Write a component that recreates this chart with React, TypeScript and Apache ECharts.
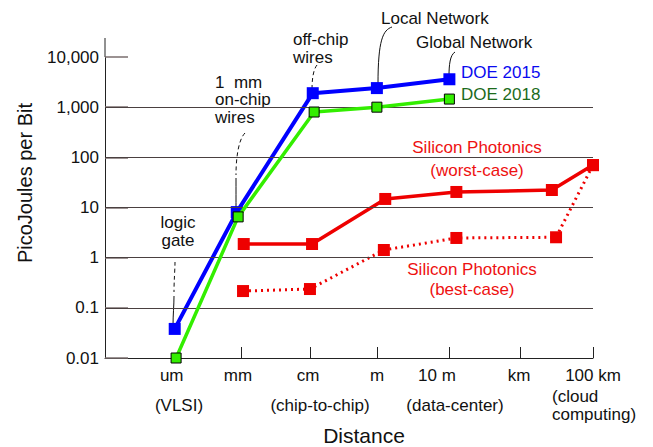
import React, { useEffect, useRef } from "react";
import * as echarts from "echarts";

// x positions are in "distance slot" units (0 = left edge of plot, 7 = 100 km)
const xTickLabels = ["um", "mm", "cm", "m", "10 m", "km", "100 km"];
const xLabelPos = [0.957, 1.908, 2.912, 3.902, 4.762, 5.939, 7];
const xTickPos = [1.951, 2.941, 3.902, 4.934, 5.953, 7];
const yTickLabels = ["0.01", "0.1", "1", "10", "100", "1,000", "10,000"];
const gridValues = [0.1, 1, 10, 100, 1000];

const doe2015: [number, number][] = [
  [1.0, 0.038],
  [1.89, 8.1],
  [2.98, 1900],
  [3.9, 2400],
  [4.94, 3600],
];
const doe2018: [number, number][] = [
  [1.02, 0.01],
  [1.91, 6.5],
  [3.0, 800],
  [3.9, 1000],
  [4.94, 1450],
];
const siWorst: [number, number][] = [
  [1.99, 1.87],
  [2.97, 1.87],
  [4.02, 14.8],
  [5.04, 20.4],
  [6.41, 22.3],
  [7.0, 70],
];
const siBest: [number, number][] = [
  [1.98, 0.216],
  [2.94, 0.237],
  [4.0, 1.42],
  [5.04, 2.47],
  [6.47, 2.55],
  [7.0, 70],
];

const FONT = '"Liberation Sans", Arial, Helvetica, sans-serif';

function txt(text: string, x: number, y: number, fill = "#111", align = "center", size = 17, lh = 17.5) {
  return {
    type: "text",
    x,
    y,
    silent: true,
    style: {
      text,
      fill,
      font: `${size}px ${FONT}`,
      lineHeight: lh,
      align,
      verticalAlign: "middle",
    },
  };
}

function curve(x1: number, y1: number, cx1: number, cy1: number, cx2: number, cy2: number, x2: number, y2: number, dashed: boolean) {
  return {
    type: "bezierCurve",
    silent: true,
    shape: { x1, y1, cpx1: cx1, cpy1: cy1, cpx2: cx2, cpy2: cy2, x2, y2 },
    style: { stroke: "#111", lineWidth: 1, fill: "none", lineDash: dashed ? [4, 3] : null },
  };
}

export default function App() {
  const ref = useRef<HTMLDivElement>(null);
  useEffect(() => {
    if (!ref.current) return;
    const chart = echarts.init(ref.current, null, { renderer: "svg" });
    const option: any = {
      animation: false,
      backgroundColor: "#fff",
      textStyle: { fontFamily: FONT },
      grid: { left: 105, right: 60, top: 57, bottom: 89 },
      xAxis: {
        type: "value",
        min: 0,
        max: 7,
        axisLine: { show: true, lineStyle: { color: "#222", width: 1 } },
        axisTick: {
          show: true,
          inside: true,
          length: 11,
          customValues: xTickPos,
          lineStyle: { color: "#222", width: 1 },
        },
        axisLabel: {
          show: true,
          customValues: xLabelPos,
          margin: 9,
          color: "#111",
          fontSize: 17,
          fontFamily: FONT,
          formatter: (v: number) => {
            const i = xLabelPos.findIndex((p) => Math.abs(p - v) < 1e-6);
            return i >= 0 ? xTickLabels[i] : "";
          },
        },
        splitLine: { show: false },
      },
      yAxis: {
        type: "log",
        logBase: 10,
        min: 0.01,
        max: 10000,
        splitNumber: 6,
        axisLine: { show: true, lineStyle: { color: "#222", width: 1 } },
        axisTick: { show: true, inside: true, length: 23, lineStyle: { color: "#7a6e6e", width: 1.5 } },
        axisLabel: {
          margin: 6,
          color: "#111",
          fontSize: 17,
          fontFamily: FONT,
          formatter: (v: number) => {
            const e = Math.round(Math.log10(v)) + 2;
            return yTickLabels[e] ?? "";
          },
        },
        splitLine: { show: false },
      },
      series: [
        {
          type: "line",
          data: [],
          z: 1,
          silent: true,
          markLine: {
            silent: true,
            symbol: "none",
            label: { show: false },
            lineStyle: { color: "#4a4040", width: 1, type: "solid" },
            data: gridValues.map((v) => ({ yAxis: v })),
          },
        },
        {
          name: "DOE 2015",
          type: "line",
          data: doe2015,
          z: 4,
          symbol: "rect",
          symbolSize: 12,
          lineStyle: { color: "#0000ff", width: 4 },
          itemStyle: { color: "#0000ff" },
        },
        {
          name: "DOE 2018",
          type: "line",
          data: doe2018,
          z: 5,
          symbol: "rect",
          symbolSize: 10,
          lineStyle: { color: "#33ee00", width: 3.5 },
          itemStyle: { color: "#33ee00", borderColor: "#000", borderWidth: 1 },
        },
        {
          name: "Silicon Photonics (worst-case)",
          type: "line",
          data: siWorst,
          z: 3,
          clip: false,
          symbol: "rect",
          symbolSize: 12,
          lineStyle: { color: "#ee0000", width: 3.5 },
          itemStyle: { color: "#ee0000" },
        },
        {
          name: "Silicon Photonics (best-case)",
          type: "line",
          data: siBest,
          z: 3,
          clip: false,
          symbol: "rect",
          symbolSize: 12,
          lineStyle: { color: "#ee0000", width: 3, type: [2, 4] },
          itemStyle: { color: "#ee0000" },
        },
      ],
      graphic: [
        {
          type: "line",
          silent: true,
          shape: { x1: 105, y1: 38, x2: 105, y2: 57 },
          style: { stroke: "#222", lineWidth: 1 },
        },
        {
          type: "text",
          x: 25,
          y: 183,
          rotation: Math.PI / 2,
          silent: true,
          style: {
            text: "PicoJoules per Bit",
            fill: "#111",
            font: `20px ${FONT}`,
            align: "center",
            verticalAlign: "middle",
          },
        },
        txt("Distance", 364, 435, "#111", "center", 21, 22),
        txt("(VLSI)", 179, 405),
        txt("(chip-to-chip)", 320, 405),
        txt("(data-center)", 455, 405),
        txt("(cloud\ncomputing)", 552, 405, "#111", "left", 17, 18),
        txt("logic\ngate", 178, 231, "#111", "center", 17, 18),
        txt("1  mm\non-chip\nwires", 215, 99.5, "#111", "left"),
        txt("off-chip\nwires", 293, 48.5, "#111", "left"),
        txt("Local Network", 381, 18, "#111", "left"),
        txt("Global Network", 416, 42, "#111", "left"),
        txt("DOE 2015", 461, 72, "#0a0af0", "left"),
        txt("DOE 2018", 461, 94, "#1c6b1c", "left"),
        txt("Silicon Photonics\n(worst-case)", 477, 158.5, "#ee1111", "center", 17, 23),
        txt("Silicon Photonics\n(best-case)", 472, 279, "#ee1111", "center", 17, 20),
        curve(175, 262, 175, 270, 174, 280, 174, 292, true),
        curve(174, 296, 174, 305, 173, 315, 173, 326, false),
        curve(245, 133, 238, 140, 236, 160, 236, 175, true),
        curve(236, 178, 236, 190, 236, 200, 236, 210, false),
        curve(317, 65, 313, 70, 312, 80, 312, 90, true),
        curve(392, 27, 383, 30, 378, 40, 378, 84, false),
        curve(455, 52, 450, 55, 449, 65, 449, 76, false),
      ],
    };
    chart.setOption(option);
    return () => chart.dispose();
  }, []);
  return <div ref={ref} style={{ width: 653, height: 447, position: "absolute", left: 0, top: 0 }} />;
}
